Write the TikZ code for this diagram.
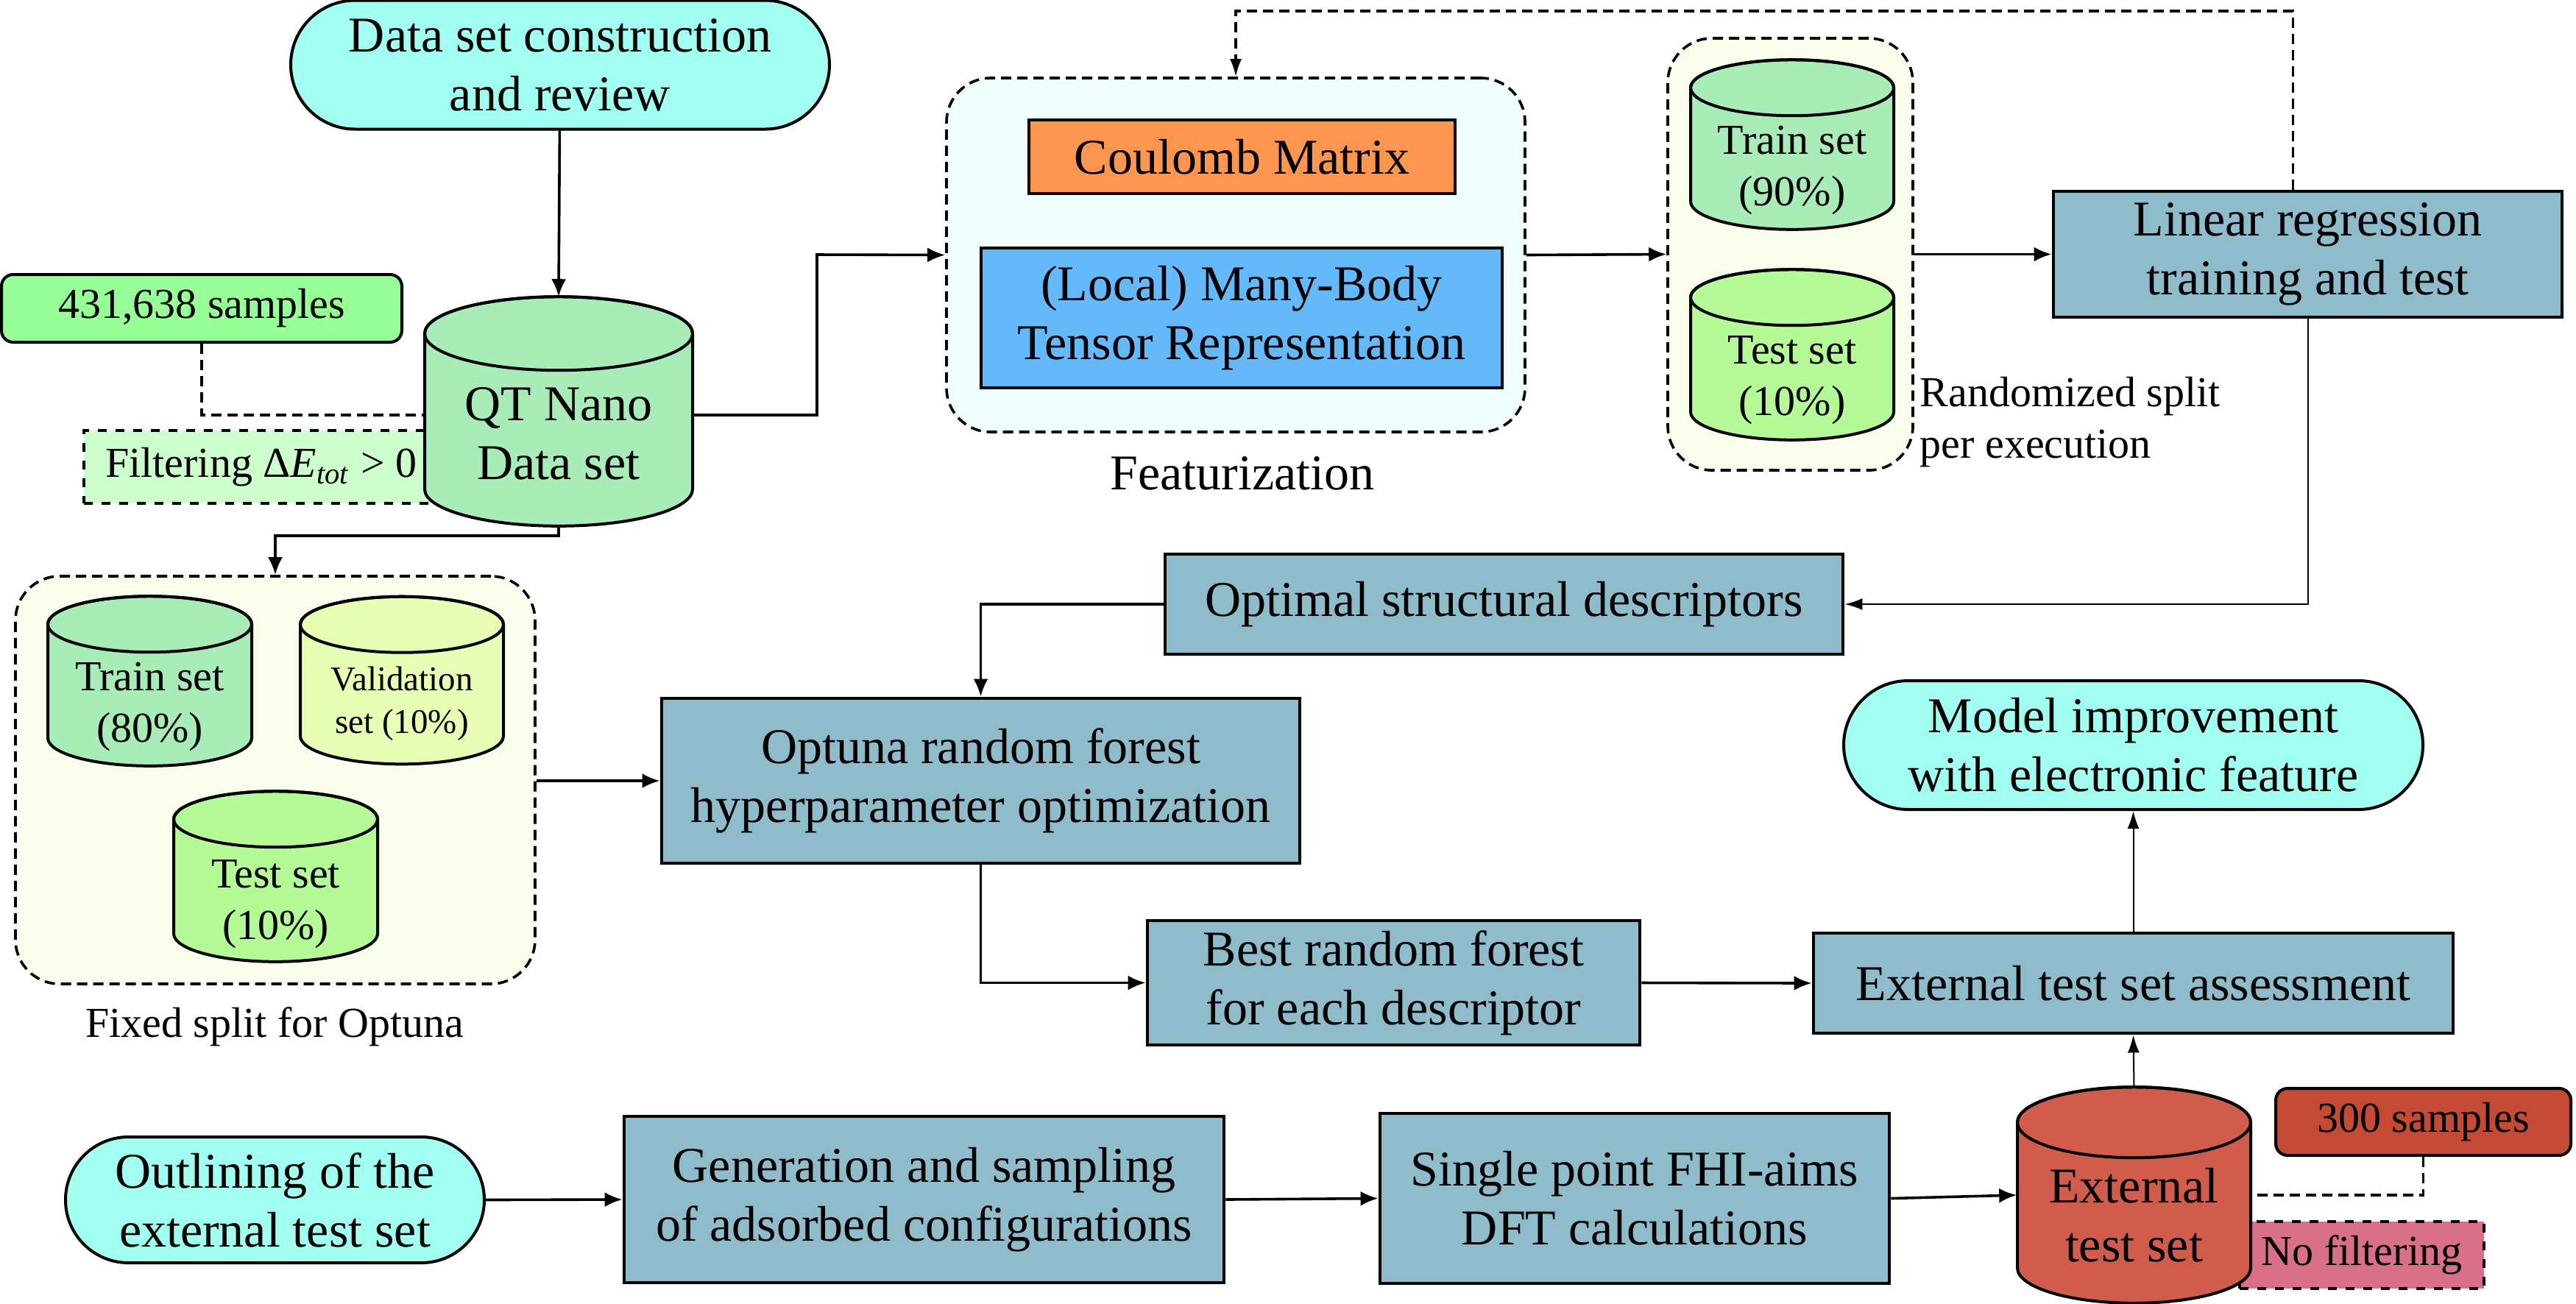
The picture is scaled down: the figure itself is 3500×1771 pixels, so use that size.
\documentclass[tikz,border=0pt]{standalone}
\usepackage{fontspec}
\setmainfont{Liberation Serif}
\usetikzlibrary{shapes.misc,arrows.meta,calc}

\definecolor{startcyan}{HTML}{A0FFF0}
\definecolor{nanogreen}{HTML}{A8ECB8}
\definecolor{samplegreen}{HTML}{96FF96}
\definecolor{filtgreen}{HTML}{CCFFCC}
\definecolor{featfill}{HTML}{F0FFFC}
\definecolor{splitfill}{HTML}{F8FFEA}
\definecolor{coulomb}{HTML}{FF9650}
\definecolor{mbtr}{HTML}{64B9FA}
\definecolor{testgreen}{HTML}{B4FA96}
\definecolor{validyellow}{HTML}{E6FFB4}
\definecolor{stepblue}{HTML}{8FBCCB}
\definecolor{extred}{HTML}{D05C4B}
\definecolor{samplered}{HTML}{C44A34}
\definecolor{nofilt}{HTML}{D87088}

\newcommand{\bigtxt}{\fontsize{17}{20}\selectfont}
\newcommand{\smalltxt}{\fontsize{14.5}{17.5}\selectfont}
\newcommand{\tinytxt}{\fontsize{11.75}{14.5}\selectfont}

\pgfdeclarelayer{back}
\pgfdeclarelayer{background}
\pgfsetlayers{back,background,main}

\tikzset{
  process/.style={draw, line width=1.2pt, fill=stepblue, align=center, font=\bigtxt, inner sep=0pt},
  terminal/.style={draw, rounded rectangle, line width=1pt, fill=startcyan, align=center, font=\bigtxt, inner sep=0pt},
  dbase/.style={rectangle, align=center, inner sep=0pt, text depth=4pt},
  dbline/.style={line width=1pt},
  group/.style={draw, dash pattern=on 3.5pt off 2pt, rounded corners=15pt, line width=0.9pt, inner sep=0pt},
  note/.style={draw, line width=1pt, rounded corners=4pt, align=center, font=\smalltxt, inner sep=0pt},
  flow/.style={line width=0.9pt, -{Latex[length=6pt,width=5pt]}},
  thinflow/.style={line width=0.5pt, -{Latex[length=6pt,width=4pt]}},
  link/.style={line width=0.8pt, dash pattern=on 3.5pt off 2pt},
}

% cylinder body behind a data set node: node, colour, x radius, y radius
\newcommand{\dbshape}[4]{%
  \begin{pgfonlayer}{background}
  \draw[dbline, fill=#2] ($(#1.north)+(-#3,#4)$) -- ($(#1.south)+(-#3,-#4)$)
    arc[start angle=180, end angle=0, x radius=#3, y radius=#4]
    -- ($(#1.north)+(#3,#4)$)
    arc[start angle=0, end angle=-180, x radius=#3, y radius=#4] -- cycle;
  \draw[dbline] ($(#1.north)+(0,#4)$) ellipse[x radius=#3, y radius=#4];
  \end{pgfonlayer}%
}

\begin{document}
\begin{tikzpicture}[x=0.25pt,y=0.25pt,yscale=-1,xscale=1]
\useasboundingbox (0,0) rectangle (3500,1771);

\begin{pgfonlayer}{back}
%Shape: Groups
\node[group, fill=featfill, minimum width=196.5pt, minimum height=120.25pt] (feat) at (1679,346.5) {};
\node[group, fill=splitfill, minimum width=83.25pt, minimum height=146.75pt] (split) at (2432.5,345.5) {};
\node[group, fill=splitfill, minimum width=176.5pt, minimum height=138.5pt] (fixed) at (374,1060) {};
%Shape: Notes behind the data sets
\node[note, dashed, rounded corners=0pt, fill=filtgreen, minimum width=120.5pt, minimum height=24.75pt] (filter) at (355,634.5) {Filtering Δ\textit{E}\textsubscript{\textit{tot}} > 0};
\node[note, dashed, rounded corners=0pt, fill=nofilt, minimum width=83pt, minimum height=22.75pt] (nofilter) at (3209,1705.5) {No filtering};
\end{pgfonlayer}

%Shape: Terminals
\node[terminal, minimum width=183pt, minimum height=43.75pt] (start) at (761,88) {Data set construction\\and review};
\node[terminal, minimum width=142.25pt, minimum height=42.75pt] (outline) at (373.5,1630.5) {Outlining of the\\external test set};
\node[terminal, minimum width=196.75pt, minimum height=43.75pt] (model) at (2898.5,1012.5) {Model improvement\\with electronic feature};

%Shape: Data sets
\node[dbase, font=\bigtxt, text height=50.3pt, minimum width=91pt, minimum height=77.5pt] (qt) at (759,559) {QT Nano\\Data set};
\node[dbase, font=\smalltxt, text height=45.4pt, minimum width=69pt, minimum height=57.25pt] (train90) at (2435,196.5) {Train set\\(90\%)};
\node[dbase, font=\smalltxt, text height=45.4pt, minimum width=69pt, minimum height=57.5pt] (test90) at (2435,482) {Test set\\(10\%)};
\node[dbase, font=\smalltxt, text height=45.4pt, minimum width=69.25pt, minimum height=57.25pt] (train80) at (203.5,925.5) {Train set\\(80\%)};
\node[dbase, font=\tinytxt, text depth=3pt, text height=39.2pt, minimum width=69pt, minimum height=56.5pt] (valid) at (546,924.5) {Validation\\set (10\%)};
\node[dbase, font=\smalltxt, text height=46.6pt, minimum width=69.25pt, minimum height=57.5pt] (test80) at (374.5,1191) {Test set\\(10\%)};
\node[dbase, font=\bigtxt, text height=49.4pt, minimum width=79.25pt, minimum height=73pt] (ext) at (2899.5,1624) {External\\test set};
\dbshape{qt}{nanogreen}{182}{50}
\dbshape{train90}{nanogreen}{138}{38}
\dbshape{test90}{testgreen}{138}{38}
\dbshape{train80}{nanogreen}{138.5}{38}
\dbshape{valid}{validyellow}{138}{38}
\dbshape{test80}{testgreen}{138.5}{38}
\dbshape{ext}{extred}{158.5}{48}

%Shape: Sample counts
\node[note, fill=samplegreen, minimum width=136pt, minimum height=23pt] (samples) at (274,419) {431,638 samples};
\node[note, fill=samplered, minimum width=100.25pt, minimum height=22.75pt] (s300) at (3292.5,1524.5) {300 samples};

%Shape: Descriptors
\node[draw, line width=1.2pt, fill=coulomb, font=\bigtxt, minimum width=144.75pt, minimum height=25pt] (cm) at (1687.5,213) {Coulomb Matrix};
\node[draw, line width=1.2pt, fill=mbtr, font=\bigtxt, align=center, minimum width=177pt, minimum height=47.5pt] (mbtr) at (1687,432) {(Local) Many-Body\\Tensor Representation};

%Shape: Process steps
\node[process, minimum width=172.75pt, minimum height=42.75pt] (lr) at (3135.5,345.5) {Linear regression\\training and test};
\node[process, minimum width=230.25pt, minimum height=34pt] (opt) at (2043.5,821) {Optimal structural descriptors};
\node[process, minimum width=216.75pt, minimum height=56pt] (optuna) at (1332.5,1061) {Optuna random forest\\hyperparameter optimization};
\node[process, minimum width=167.25pt, minimum height=42.25pt] (best) at (1893.5,1335.5) {Best random forest\\for each descriptor};
\node[process, minimum width=217.25pt, minimum height=34pt] (assess) at (2898.5,1336) {External test set assessment};
\node[process, minimum width=203.75pt, minimum height=56.5pt] (gen) at (1255.5,1630) {Generation and sampling\\of adsorbed configurations};
\node[process, minimum width=173pt, minimum height=57.75pt] (dft) at (2221,1628.5) {Single point FHI-aims\\DFT calculations};

% Text Node
\node[font=\bigtxt] (featlabel) at (1688,643) {Featurization};
% Text Node
\node[font=\smalltxt] (fixedlabel) at (373,1395) {Fixed split for Optuna};
% Text Node
\node[font=\smalltxt, align=left, anchor=west, inner sep=0pt] (splitlabel) at (2608,574) {Randomized split\\per execution};

%Straight Lines
\coordinate (qtbend) at (1110,346);
\coordinate (qtdown) at (374,728);
\coordinate (fbtop) at (1679,15);
\draw[flow] (start) -- (qt.north);
\draw[link] (samples.south) |- ([yshift=1.25pt]qt.west);
\draw[flow] ([yshift=1.25pt]qt.east) -| (qtbend) -- (feat.west);
\draw[flow] (qt.south) |- (qtdown) -- (fixed.north);
\draw[flow] (feat.east) -- (split.west);
\draw[flow] (split.east) -- (lr.west);
\draw[link, -{Latex[length=6pt,width=4pt]}] ([xshift=-5pt]lr.north) |- (fbtop) -- (feat.north);
\draw[thinflow] (lr.south) |- (opt.east);
\draw[flow] (opt.west) -| (optuna.north);
\draw[flow] (fixed.east |- optuna.west) -- (optuna.west);
\draw[flow] (optuna.south) |- (best.west);
\draw[flow] (best.east) -- (assess.west);
\draw[thinflow] (assess.north) -- (model.south);
\draw[flow] (outline.east) -- (gen.west);
\draw[flow] (gen.east) -- (dft.west);
\draw[flow] (dft.east) -- (ext.west);
\draw[thinflow] (ext.north) -- (assess.south);
\draw[link] (s300.south) |- (ext.east);
\end{tikzpicture}
\end{document}
